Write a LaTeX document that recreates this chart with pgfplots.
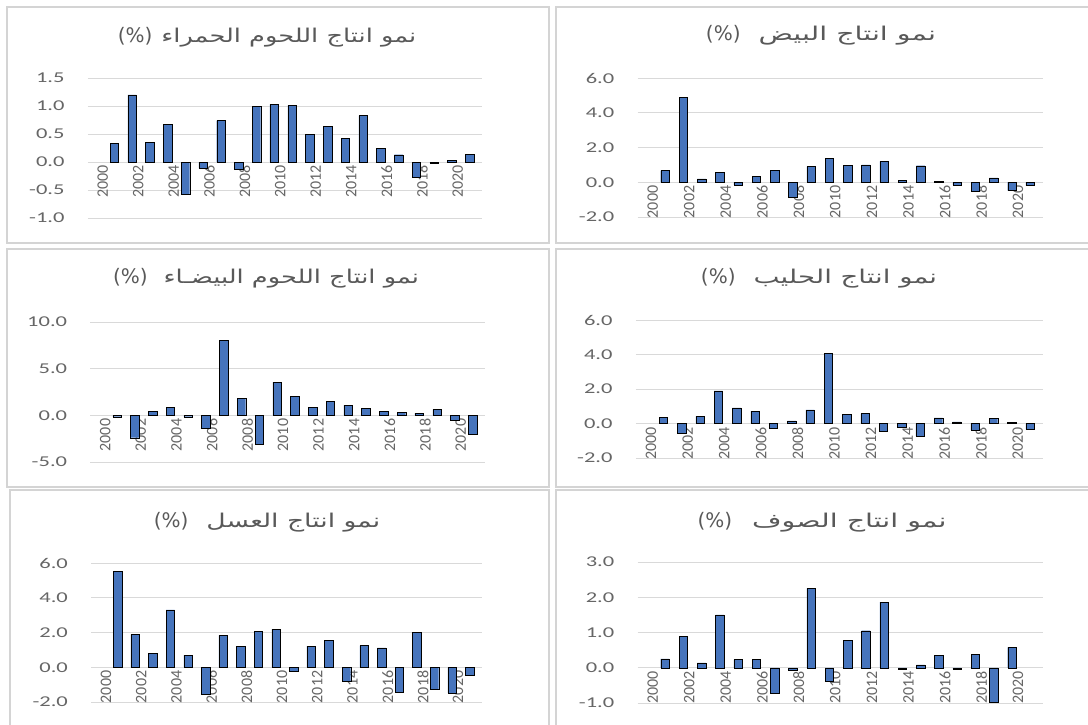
\documentclass[border=0pt]{standalone}
\usepackage{fontspec}
\usepackage{graphicx}
\setmainfont{Carlito}
\newfontfamily\arabicfont[Script=Arabic]{DejaVu Sans}
\newfontfamily\latinsans{DejaVu Sans}
\TeXXeTstate=1
\usepackage{pgfplots}
\pgfplotsset{compat=1.18}
\definecolor{barblue}{HTML}{4674BC}
\definecolor{baredge}{HTML}{2E5596}
\definecolor{gridgray}{HTML}{D9D9D9}
\definecolor{framegray}{HTML}{D4D4D4}
\definecolor{ticktext}{HTML}{666666}
\definecolor{titletext}{HTML}{595959}
\pgfplotsset{
  panel/.style={
    scale only axis,
    xmin=1999.5, xmax=2021.7,
    axis x line*=middle,
    axis y line*=left,
    axis line style={draw=none},
    major tick length=0pt,
    ymajorgrids,
    grid style={gridgray, line width=0.9pt},
    xtick={2000,2002,...,2020},
    xticklabel style={rotate=90, anchor=east, yshift=-6pt, font=\fontsize{16}{18}\selectfont, text=ticktext, /pgf/number format/1000 sep={}},
    yticklabel style={font=\fontsize{15}{18}\selectfont, text=ticktext, xscale=1.5, xshift=-12pt, /pgf/number format/.cd, fixed, fixed zerofill, precision=1},
    /pgf/number format/assume math mode=true,
    ybar, bar width=8.5pt,
    cycle list={{fill=barblue, draw=baredge, line width=0.4pt}},
    clip=false,
  }
}
\newcommand\ttl[3]{{\fontsize{20}{22}\selectfont\latinsans(\%)}\hspace{#2}\scalebox{#3}[1]{\fontsize{19}{22}\selectfont\arabicfont\beginR #1\endR}}
\begin{document}
\begin{tikzpicture}
\fill[white] (0pt,0pt) rectangle (1088pt,-724pt);
% panel frames
\begin{scope}[draw=framegray, line width=1.3pt]
\draw (7pt,-7pt) rectangle (549pt,-243pt);
\draw (556pt,-7pt) rectangle (1092pt,-243pt);
\draw (7pt,-249pt) rectangle (549pt,-487pt);
\draw (556pt,-249pt) rectangle (1092pt,-487pt);
\draw (10pt,-490pt) rectangle (549pt,-730pt);
\draw (556pt,-490pt) rectangle (1092pt,-730pt);
\end{scope}
% titles
\begin{scope}[every node/.style={text=titletext, inner sep=0pt}]
\node at (267pt,-37pt) {\ttl{نمو انتاج اللحوم الحمراء}{9pt}{1.35}};
\node at (821pt,-35pt) {\ttl{نمو انتاج البيض}{18pt}{1.5}};
\node at (266pt,-278pt) {\ttl{نمو انتاج اللحوم البيضـاء}{16pt}{1.35}};
\node at (819pt,-278pt) {\ttl{نمو انتاج الحليب}{18pt}{1.45}};
\node at (267pt,-522pt) {\ttl{نمو انتاج العسل}{18pt}{1.4}};
\node at (822pt,-522pt) {\ttl{نمو انتاج الصوف}{20pt}{1.5}};
\end{scope}
% red meat
\begin{axis}[panel, at={(87.8pt,-78pt)}, anchor=north west, width=394.2pt, height=140pt,
  ymin=-1, ymax=1.5, ytick={-1,-0.5,0,0.5,1,1.5}]
\addplot coordinates {(2001,0.33) (2002,1.20) (2003,0.35) (2004,0.67) (2005,-0.58) (2006,-0.11) (2007,0.74) (2008,-0.13) (2009,0.99) (2010,1.03) (2011,1.01) (2012,0.50) (2013,0.64) (2014,0.42) (2015,0.83) (2016,0.24) (2017,0.13) (2018,-0.27) (2019,-0.02) (2020,0.03) (2021,0.14)};
\end{axis}
% eggs
\begin{axis}[panel, at={(637.6pt,-78pt)}, anchor=north west, width=405.4pt, height=139pt,
  ymin=-2, ymax=6, ytick={-2,0,2,4,6}]
\addplot coordinates {(2001,0.67) (2002,4.90) (2003,0.20) (2004,0.57) (2005,-0.15) (2006,0.32) (2007,0.67) (2008,-0.86) (2009,0.90) (2010,1.37) (2011,0.99) (2012,1.00) (2013,1.20) (2014,0.11) (2015,0.95) (2016,0.05) (2017,-0.15) (2018,-0.50) (2019,0.25) (2020,-0.48) (2021,-0.19)};
\end{axis}
% white meat
\begin{axis}[panel, at={(90.4pt,-322pt)}, anchor=north west, width=394.6pt, height=140pt,
  ymin=-5, ymax=10, ytick={-5,0,5,10}]
\addplot coordinates {(2001,-0.15) (2002,-2.40) (2003,0.43) (2004,0.89) (2005,-0.15) (2006,-1.36) (2007,8.00) (2008,1.79) (2009,-3.10) (2010,3.55) (2011,2.00) (2012,0.89) (2013,1.50) (2014,1.10) (2015,0.75) (2016,0.43) (2017,0.29) (2018,0.25) (2019,0.64) (2020,-0.54) (2021,-2.07)};
\end{axis}
% milk
\begin{axis}[panel, at={(635.8pt,-320pt)}, anchor=north west, width=407.2pt, height=138pt,
  ymin=-2, ymax=6, ytick={-2,0,2,4,6}]
\addplot coordinates {(2001,0.34) (2002,-0.57) (2003,0.42) (2004,1.89) (2005,0.91) (2006,0.72) (2007,-0.28) (2008,0.15) (2009,0.79) (2010,4.06) (2011,0.53) (2012,0.57) (2013,-0.43) (2014,-0.23) (2015,-0.72) (2016,0.32) (2017,0.09) (2018,-0.38) (2019,0.30) (2020,0.07) (2021,-0.34)};
\end{axis}
% honey
\begin{axis}[panel, at={(91.2pt,-563pt)}, anchor=north west, width=390.8pt, height=139pt,
  ymin=-2, ymax=6, ytick={-2,0,2,4,6}]
\addplot coordinates {(2001,5.50) (2002,1.89) (2003,0.79) (2004,3.30) (2005,0.70) (2006,-1.57) (2007,1.83) (2008,1.21) (2009,2.08) (2010,2.19) (2011,-0.25) (2012,1.21) (2013,1.55) (2014,-0.81) (2015,1.25) (2016,1.11) (2017,-1.42) (2018,2.02) (2019,-1.28) (2020,-1.47) (2021,-0.47)};
\end{axis}
% wool
\begin{axis}[panel, at={(637.6pt,-562pt)}, anchor=north west, width=405.4pt, height=141pt,
  ymin=-1, ymax=3, ytick={-1,0,1,2,3}]
\addplot coordinates {(2001,0.25) (2002,0.89) (2003,0.14) (2004,1.50) (2005,0.23) (2006,0.23) (2007,-0.71) (2008,-0.08) (2009,2.25) (2010,-0.39) (2011,0.77) (2012,1.05) (2013,1.86) (2014,-0.03) (2015,0.08) (2016,0.35) (2017,-0.04) (2018,0.38) (2019,-0.97) (2020,0.58)};
\end{axis}
\pgfresetboundingbox
\path[use as bounding box] (0pt,0pt) rectangle (1088pt,-724pt);
\end{tikzpicture}
\end{document}
